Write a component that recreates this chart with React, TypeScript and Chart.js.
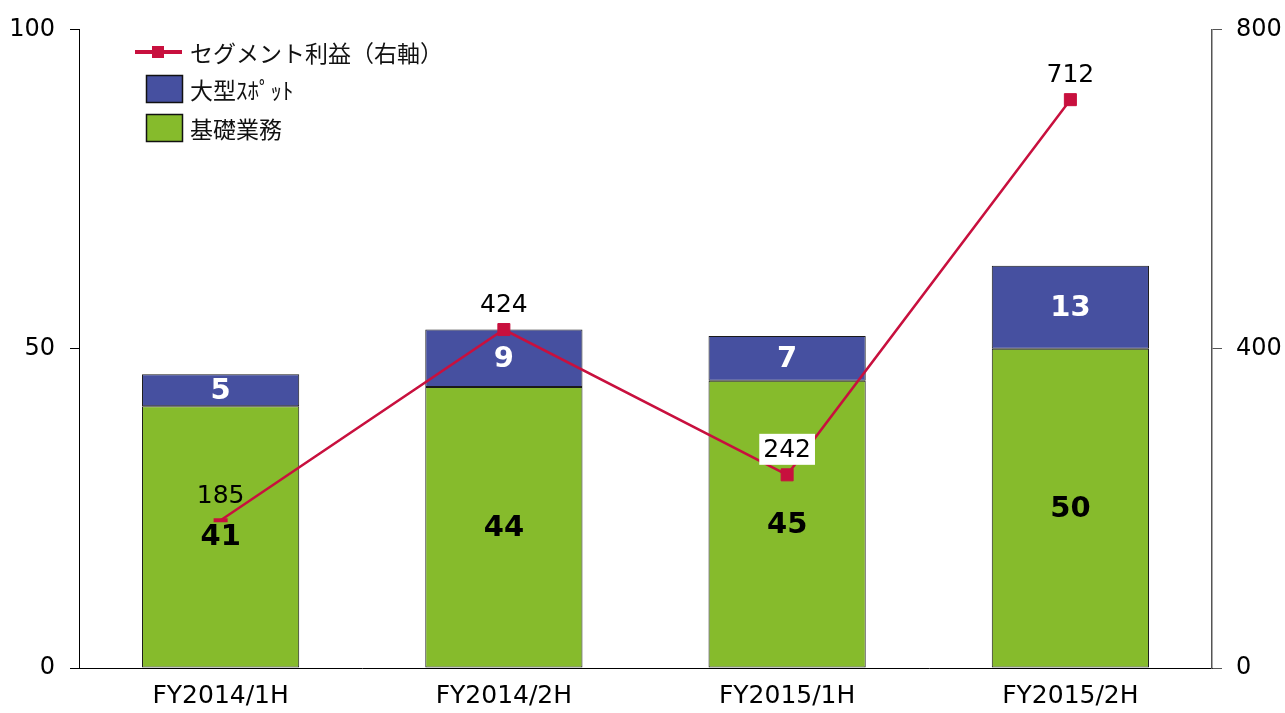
import React, { useEffect, useRef } from "react";
import { Chart, registerables } from "chart.js";

Chart.register(...registerables);

const categories = ["FY2014/1H", "FY2014/2H", "FY2015/1H", "FY2015/2H"];
const baseBusiness = [41, 44, 45, 50];
const largeSpot = [5, 9, 7, 13];
const segmentProfit = [185, 424, 242, 712];
const leftTicks = [0, 50, 100];
const rightTicks = [0, 400, 800];

const GREEN = "#86BB2C";
const BLUE = "#4650A0";
const RED = "#C8103E";
const NUM_FONT = "'DejaVu Sans', Verdana, sans-serif";
const JP_FONT = "'Noto Sans CJK JP', 'DejaVu Sans', sans-serif";

const legendItems = [
  { label: "セグメント利益（右軸）", kind: "line", color: RED },
  { label: "大型ｽﾎﾟｯﾄ", kind: "box", color: BLUE },
  { label: "基礎業務", kind: "box", color: GREEN },
];

const labelBackground = [null, null, "#ffffff", null];

const overlayPlugin = {
  id: "overlay",
  afterDatasetsDraw(chart: any) {
    const ctx = chart.ctx;
    ctx.save();
    // bar value labels
    [0, 1].forEach((di) => {
      const meta = chart.getDatasetMeta(di);
      const ds = chart.data.datasets[di];
      meta.data.forEach((el: any, i: number) => {
        const cy = (el.y + el.base) / 2;
        ctx.font = `bold 29px ${NUM_FONT}`;
        ctx.fillStyle = di === 0 ? "#000000" : "#ffffff";
        ctx.textAlign = "center";
        ctx.textBaseline = "middle";
        ctx.fillText(String(ds.data[i]), el.x, cy + 1);
      });
    });
    // line value labels
    const lmeta = chart.getDatasetMeta(2);
    const lds = chart.data.datasets[2];
    lmeta.data.forEach((el: any, i: number) => {
      const txt = String(lds.data[i]);
      const cx = el.x;
      const cy = el.y - 25;
      ctx.font = `25px ${NUM_FONT}`;
      const bg = labelBackground[i];
      if (bg) {
        const w = ctx.measureText(txt).width + 8;
        ctx.fillStyle = bg;
        ctx.fillRect(cx - w / 2, cy - 16, w, 31);
      }
      ctx.fillStyle = "#000000";
      ctx.textAlign = "center";
      ctx.textBaseline = "middle";
      ctx.fillText(txt, cx, cy + 1);
    });
    ctx.restore();
  },
  afterDraw(chart: any) {
    const ctx = chart.ctx;
    ctx.save();
    const x0 = 135;
    const rows = [52, 89, 128];
    legendItems.forEach((item, i) => {
      const y = rows[i];
      if (item.kind === "line") {
        ctx.strokeStyle = item.color;
        ctx.lineWidth = 4;
        ctx.beginPath();
        ctx.moveTo(x0, y);
        ctx.lineTo(x0 + 47, y);
        ctx.stroke();
        ctx.fillStyle = item.color;
        ctx.fillRect(x0 + 17, y - 6, 12, 12);
      } else {
        ctx.fillStyle = item.color;
        ctx.fillRect(146.5, y - 13.5, 36, 27);
        ctx.strokeStyle = "#111111";
        ctx.lineWidth = 1.5;
        ctx.strokeRect(146.5, y - 13.5, 36, 27);
      }
      ctx.fillStyle = "#111111";
      ctx.font = `23px ${JP_FONT}`;
      ctx.textAlign = "left";
      ctx.textBaseline = "middle";
      ctx.fillText(item.label, 190, y + 1);
    });
    ctx.restore();
  },
};

export default function App() {
  const ref = useRef<HTMLCanvasElement | null>(null);

  useEffect(() => {
    document.body.style.margin = "0";
    if (!ref.current) return;
    const chart = new Chart(ref.current, {
      type: "bar",
      data: {
        labels: categories,
        datasets: [
          {
            type: "bar",
            label: "基礎業務",
            data: baseBusiness,
            backgroundColor: GREEN,
            borderColor: "#1a1a1a",
            borderWidth: 1,
            borderSkipped: false,
            yAxisID: "y",
            stack: "s",
            order: 2,
            barPercentage: 0.555,
            categoryPercentage: 1,
          },
          {
            type: "bar",
            label: "大型ｽﾎﾟｯﾄ",
            data: largeSpot,
            backgroundColor: BLUE,
            borderColor: "#1a1a1a",
            borderWidth: 1,
            borderSkipped: false,
            yAxisID: "y",
            stack: "s",
            order: 2,
            barPercentage: 0.555,
            categoryPercentage: 1,
          },
          {
            type: "line",
            label: "セグメント利益（右軸）",
            data: segmentProfit,
            borderColor: RED,
            backgroundColor: RED,
            borderWidth: 2.5,
            yAxisID: "y1",
            order: 0,
            tension: 0,
            pointStyle: ["line", "rect", "rect", "rect"] as any,
            pointRadius: [7, 8.5, 8.5, 8.5],
            pointBorderWidth: [4, 1, 1, 1],
            pointBorderColor: RED,
            pointBackgroundColor: RED,
          } as any,
        ],
      },
      options: {
        responsive: false,
        animation: false,
        layout: { padding: { top: 28, left: 0, right: 0, bottom: 0 } },
        plugins: {
          legend: { display: false },
          tooltip: { enabled: false },
        },
        scales: {
          x: {
            stacked: true,
            grid: { display: true, drawOnChartArea: false, drawTicks: false },
            border: { display: true, color: "#000000", width: 1 },
            ticks: {
              color: "#000000",
              font: { family: NUM_FONT, size: 25 },
              padding: 13,
            },
            afterFit(scale: any) {
              scale.height = 45;
            },
          },
          y: {
            position: "left",
            stacked: true,
            min: 0,
            max: 100,
            afterBuildTicks(scale: any) {
              scale.ticks = leftTicks.map((v) => ({ value: v }));
            },
            grid: {
              display: true,
              drawOnChartArea: false,
              drawTicks: true,
              tickLength: 9,
              color: "#000000",
            },
            border: { display: true, color: "#000000", width: 1 },
            ticks: {
              color: "#000000",
              font: { family: NUM_FONT, size: 24 },
              padding: 15,
            },
            afterFit(scale: any) {
              scale.width = 79;
            },
          },
          y1: {
            position: "right",
            min: 0,
            max: 800,
            afterBuildTicks(scale: any) {
              scale.ticks = rightTicks.map((v) => ({ value: v }));
            },
            grid: {
              display: true,
              drawOnChartArea: false,
              drawTicks: true,
              tickLength: 10,
              color: "#555555",
            },
            border: { display: true, color: "#555555", width: 1.5 },
            ticks: {
              color: "#000000",
              font: { family: NUM_FONT, size: 24 },
              padding: 14,
            },
            afterFit(scale: any) {
              scale.width = 73;
            },
          },
        },
      } as any,
      plugins: [overlayPlugin],
    });
    return () => chart.destroy();
  }, []);

  return (
    <div style={{ width: 1285, height: 713 }}>
      <canvas ref={ref} width={1285} height={713} style={{ display: "block" }} />
    </div>
  );
}
